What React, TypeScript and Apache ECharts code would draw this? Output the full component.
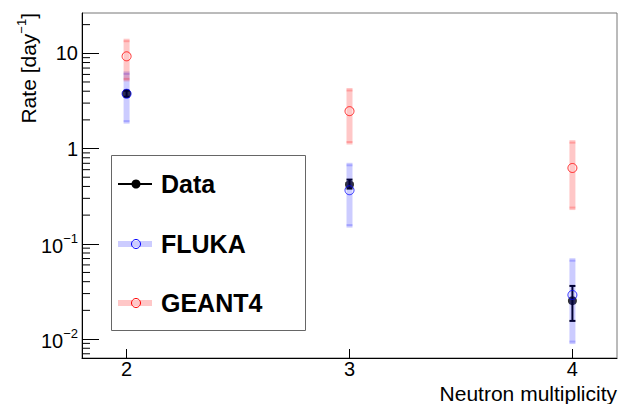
import React, { useEffect, useRef } from "react";
import * as echarts from "echarts";

// ---- data ----
const multiplicity = [2, 3, 4];

const dataRate = [3.78, 0.419, 0.0253];
const dataLow = [3.5, 0.38, 0.0155];
const dataHigh = [4.05, 0.472, 0.0361];

const flukaRate = [3.76, 0.365, 0.029];
const flukaLow = [1.94, 0.157, 0.0094];
const flukaHigh = [6.08, 0.667, 0.0664];

const geantRate = [9.3, 2.47, 0.625];
const geantLow = [5.39, 1.17, 0.24];
const geantHigh = [13.4, 4.07, 1.153];

const xTickValues = [2, 3, 4];
const yDecades = [0.001, 0.01, 0.1, 1, 10];
const yMin = 0.00632;
const yMax = 26.5;

const FONT = "Liberation Sans";
const BLUE_BAND = "rgba(0,0,255,0.2)";
const RED_BAND = "rgba(255,0,0,0.22)";

function bandRender(color: string) {
  return (params: any, api: any) => {
    const x = api.value(0);
    const lo = api.coord([x, api.value(1)]);
    const hi = api.coord([x, api.value(2)]);
    return {
      type: "group",
      children: [
        {
          type: "line",
          shape: { x1: lo[0], y1: lo[1] + 2.5, x2: hi[0], y2: hi[1] - 2.5 },
          style: { stroke: color, lineWidth: 6 },
        },
        {
          type: "line",
          shape: { x1: lo[0] - 3, y1: lo[1], x2: lo[0] + 3, y2: lo[1] },
          style: { stroke: color, lineWidth: 2 },
        },
        {
          type: "line",
          shape: { x1: hi[0] - 3, y1: hi[1], x2: hi[0] + 3, y2: hi[1] },
          style: { stroke: color, lineWidth: 2 },
        },
      ],
    };
  };
}

function errRender(params: any, api: any) {
  const x = api.value(0);
  const lo = api.coord([x, api.value(1)]);
  const hi = api.coord([x, api.value(2)]);
  return {
    type: "group",
    children: [
      {
        type: "line",
        shape: { x1: lo[0], y1: lo[1], x2: hi[0], y2: hi[1] },
        style: { stroke: "#000", lineWidth: 2 },
      },
      {
        type: "line",
        shape: { x1: lo[0] - 3, y1: lo[1], x2: lo[0] + 3, y2: lo[1] },
        style: { stroke: "#000", lineWidth: 2 },
      },
      {
        type: "line",
        shape: { x1: hi[0] - 3, y1: hi[1], x2: hi[0] + 3, y2: hi[1] },
        style: { stroke: "#000", lineWidth: 2 },
      },
    ],
  };
}

function minorTickRender(params: any, api: any) {
  const v = api.value(0);
  const p = api.coord([1.8, v]);
  return {
    type: "line",
    shape: { x1: p[0], y1: p[1], x2: p[0] + 8, y2: p[1] },
    style: { stroke: "#000", lineWidth: 1 },
  };
}

export default function App() {
  const ref = useRef<HTMLDivElement>(null);

  useEffect(() => {
    if (!ref.current) return;
    const chart = echarts.init(ref.current, null, { renderer: "svg" });

    const minorTicks: number[][] = [];
    yDecades.forEach((d) => {
      for (let k = 2; k <= 9; k++) {
        const v = d * k;
        if (v > yMin && v < yMax) minorTicks.push([v]);
      }
    });

    const zip3 = (a: number[], b: number[]) =>
      multiplicity.map((x, i) => [x, a[i], b[i]]);

    const legendX = 111;
    const rowsY = [184, 244, 303];

    const option: any = {
      animation: false,
      backgroundColor: "#fff",
      grid: {
        left: 82,
        right: 2,
        top: 13,
        bottom: 46,
        show: true,
        borderColor: "#777",
        borderWidth: 1,
        backgroundColor: "transparent",
      },
      xAxis: {
        type: "value",
        min: 1.8,
        max: 4.2,
        axisLine: { show: true, lineStyle: { color: "#000", width: 1 } },
        axisTick: {
          show: true,
          inside: true,
          length: 9,
          customValues: xTickValues,
          lineStyle: { color: "#000" },
        },
        axisLabel: {
          customValues: xTickValues,
          fontFamily: FONT,
          fontSize: 20,
          lineHeight: 16,
          color: "#000",
          margin: 3,
        },
        splitLine: { show: false },
      },
      yAxis: {
        type: "log",
        logBase: 10,
        min: yMin,
        max: yMax,
        axisLine: { show: true, lineStyle: { color: "#000", width: 1 } },
        axisTick: { show: true, inside: true, length: 17, lineStyle: { color: "#000" } },
        minorTick: { show: false },
        splitLine: { show: false },
        axisLabel: {
          margin: 4,
          color: "#000",
          fontFamily: FONT,
          fontSize: 20,
          align: "right",
          showMinLabel: false,
          showMaxLabel: false,
          formatter: (value: number) => {
            const l = Math.log10(value);
            const e = Math.round(l);
            if (Math.abs(l - e) > 1e-6) return "";
            if (e === 0) return "1";
            if (e === 1) return "10";
            return "{b|10}{s|" + (e < 0 ? "\u2212" : "") + Math.abs(e) + "}";
          },
          rich: {
            b: { fontSize: 20, fontFamily: FONT, color: "#000", lineHeight: 24, verticalAlign: "bottom" },
            s: { fontSize: 13, fontFamily: FONT, color: "#000", lineHeight: 14, verticalAlign: "top" },
          },
        },
      },
      series: [
        {
          name: "minorTicks",
          type: "custom",
          renderItem: minorTickRender,
          data: minorTicks,
          silent: true,
          z: 1,
        },
        {
          name: "Data errors",
          type: "custom",
          renderItem: errRender,
          data: zip3(dataLow, dataHigh),
          z: 2,
        },
        {
          name: "Data",
          type: "scatter",
          symbol: "circle",
          symbolSize: 9,
          itemStyle: { color: "#000" },
          data: multiplicity.map((x, i) => [x, dataRate[i]]),
          z: 3,
        },
        {
          name: "FLUKA band",
          type: "custom",
          renderItem: bandRender(BLUE_BAND),
          data: zip3(flukaLow, flukaHigh),
          z: 4,
        },
        {
          name: "FLUKA",
          type: "scatter",
          symbol: "circle",
          symbolSize: 9,
          itemStyle: { color: "rgba(0,0,0,0)", borderColor: "#0000ff", borderWidth: 1 },
          data: multiplicity.map((x, i) => [x, flukaRate[i]]),
          z: 5,
        },
        {
          name: "GEANT4 band",
          type: "custom",
          renderItem: bandRender(RED_BAND),
          data: zip3(geantLow, geantHigh),
          z: 6,
        },
        {
          name: "GEANT4",
          type: "scatter",
          symbol: "circle",
          symbolSize: 9,
          itemStyle: { color: "rgba(0,0,0,0)", borderColor: "#ff0000", borderWidth: 1 },
          data: multiplicity.map((x, i) => [x, geantRate[i]]),
          z: 7,
        },
      ],
      graphic: [
        {
          type: "text",
          x: 27,
          y: 13,
          rotation: Math.PI / 2,
          style: {
            text: "{a|Rate [day}{s|\u22121}{a|]}",
            align: "right",
            verticalAlign: "middle",
            fill: "#000",
            rich: {
              a: { fontSize: 21, fontFamily: FONT, fill: "#000", lineHeight: 24, verticalAlign: "bottom" },
              s: { fontSize: 13, fontFamily: FONT, fill: "#000", lineHeight: 14, verticalAlign: "top" },
            },
          },
        },
        {
          type: "text",
          x: 617,
          y: 393,
          style: {
            text: "Neutron multiplicity",
            align: "right",
            verticalAlign: "middle",
            fill: "#000",
            fontSize: 21,
            fontFamily: FONT,
          },
        },
        {
          type: "group",
          children: [
            {
              type: "rect",
              shape: { x: legendX + 0.5, y: 155.5, width: 194, height: 175 },
              style: { fill: "#fff", stroke: "#666", lineWidth: 1 },
            },
            {
              type: "line",
              shape: { x1: 118, y1: rowsY[0], x2: 152, y2: rowsY[0] },
              style: { stroke: "#000", lineWidth: 2 },
            },
            {
              type: "circle",
              shape: { cx: 136, cy: rowsY[0], r: 4.5 },
              style: { fill: "#000" },
            },
            {
              type: "text",
              x: 161,
              y: rowsY[0],
              style: { text: "Data", fontSize: 25, fontWeight: "bold", fontFamily: FONT, fill: "#000", verticalAlign: "middle" },
            },
            {
              type: "line",
              shape: { x1: 118, y1: rowsY[1], x2: 152, y2: rowsY[1] },
              style: { stroke: BLUE_BAND, lineWidth: 6 },
            },
            {
              type: "circle",
              shape: { cx: 136, cy: rowsY[1], r: 4.5 },
              style: { fill: "none", stroke: "#0000ff", lineWidth: 1 },
            },
            {
              type: "text",
              x: 161,
              y: rowsY[1],
              style: { text: "FLUKA", fontSize: 25, fontWeight: "bold", fontFamily: FONT, fill: "#000", verticalAlign: "middle" },
            },
            {
              type: "line",
              shape: { x1: 118, y1: rowsY[2], x2: 152, y2: rowsY[2] },
              style: { stroke: RED_BAND, lineWidth: 6 },
            },
            {
              type: "circle",
              shape: { cx: 136, cy: rowsY[2], r: 4.5 },
              style: { fill: "none", stroke: "#ff0000", lineWidth: 1 },
            },
            {
              type: "text",
              x: 161,
              y: rowsY[2],
              style: { text: "GEANT4", fontSize: 25, fontWeight: "bold", fontFamily: FONT, fill: "#000", verticalAlign: "middle" },
            },
          ],
        },
      ],
    };

    chart.setOption(option);
    return () => chart.dispose();
  }, []);

  return (
    <div
      ref={ref}
      style={{ position: "absolute", left: 0, top: 0, width: 619, height: 404 }}
    />
  );
}
